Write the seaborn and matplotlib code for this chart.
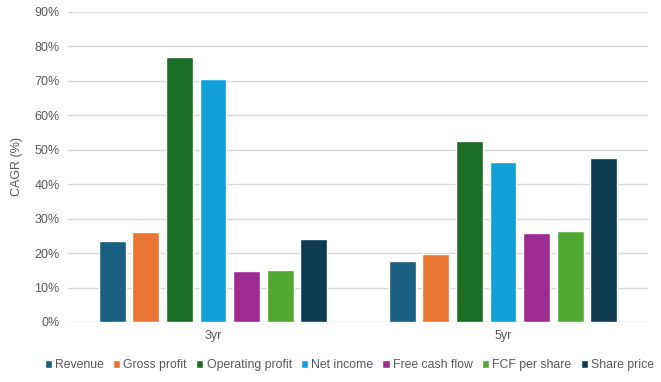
import pandas as pd
import numpy as np
import matplotlib.pyplot as plt
import seaborn as sns
from matplotlib.ticker import PercentFormatter

periods = ["3yr", "5yr"]
metrics = ["Revenue", "Gross profit", "Operating profit", "Net income",
           "Free cash flow", "FCF per share", "Share price"]
cagr_3yr = [23.5, 26.1, 76.9, 70.6, 14.8, 15.1, 24.1]
cagr_5yr = [17.7, 19.8, 52.6, 46.5, 25.9, 26.5, 47.7]
colors = ["#1a5e82", "#e87533", "#1b6c25", "#11a0d8", "#9e2b92", "#50a831", "#0e3a50"]

df = pd.DataFrame({
    "period": np.repeat(periods, len(metrics)),
    "metric": metrics * len(periods),
    "cagr": cagr_3yr + cagr_5yr,
})

sns.set_style("white")
plt.rcParams['font.family'] = ['Liberation Sans', 'DejaVu Sans']

fig = plt.figure(figsize=(6.61, 3.82), dpi=100)
ax = fig.add_axes([68/661, 60/382, 580/661, 310/382])

sns.barplot(data=df, x="period", y="cagr", hue="metric", hue_order=metrics,
            palette=colors, width=0.81, gap=0.2, saturation=1, ax=ax)

ax.set_ylim(0, 90)
ax.set_yticks(np.arange(0, 91, 10))
ax.yaxis.set_major_formatter(PercentFormatter(decimals=0))
ax.grid(axis="y", color="#d9d9d9", linewidth=1)
ax.set_axisbelow(True)
sns.despine(ax=ax, left=True, bottom=True)
ax.tick_params(axis="both", length=0, labelsize=9, colors="#595959", pad=6)
ax.set_xlabel("")
ax.set_ylabel("CAGR (%)", fontsize=9, color="#595959", labelpad=8)

ax.legend(loc="upper center", bbox_to_anchor=(0.485, -0.085), ncol=7, frameon=False,
          fontsize=8.8, labelcolor="#595959", handlelength=0.6, handleheight=0.6,
          handletextpad=0.25, columnspacing=0.75)

fig.savefig("out.png", dpi=100)
